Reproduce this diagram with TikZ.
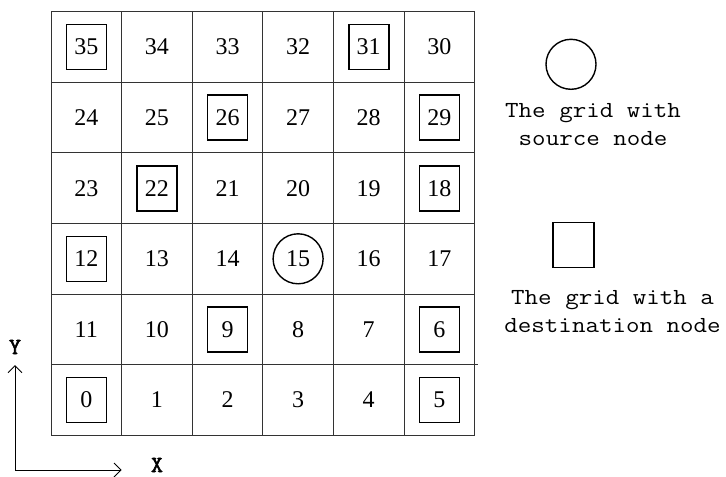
\documentclass[tikz,border=0pt]{standalone}
\usepackage{fontspec}
\setmainfont{Liberation Serif}
\newfontfamily\legfont[FakeStretch=1.14]{Latin Modern Mono}
\newfontfamily\axfont[FakeBold=2.5]{Latin Modern Mono}
\usetikzlibrary{arrows.meta,positioning}
\tikzset{
  cellnum/.style={font=\fontsize{12}{14}\selectfont},
  destbox/.style={rectangle,draw=black,line width=0.8pt,
    minimum width=20pt,minimum height=22.5pt,inner sep=0pt},
  srcring/.style={circle,draw=black,line width=0.7pt,
    minimum size=25pt,inner sep=0pt},
  gridline/.style={draw=black!80,line width=0.5pt},
  legtext/.style={align=center,font=\legfont\fontsize{11.5}{14}\selectfont},
  axisarrow/.style={-{Straight Barb[length=3.5pt,width=7pt]},line width=0.5pt},
  axislabel/.style={font=\axfont\fontsize{11.5}{13}\selectfont}
}

\begin{document}
\begin{tikzpicture}[x=0.5pt,y=-0.5pt]
  \useasboundingbox (0,0) rectangle (726,476);
  % 6x6 grid of cells
  \foreach \i in {0,...,6} {
    \draw[gridline] ({51+70.6*\i},11.7) -- ++(0,423.6);
    \draw[gridline] (51,{11.7+70.6*\i}) -- ++(423.6,0);
  }
  \draw[gridline] (474.6,364.7) -- (478,364.7);
  % cell numbers, snaking upward
  \foreach \r in {0,...,5} {
    \foreach \c in {0,...,5} {
      \pgfmathtruncatemacro{\n}{isodd(\r) ? 6*\r+5-\c : 6*\r+\c}
      \node[cellnum] (g\n) at ({86.3+70.6*\c},{400-70.6*\r}) {\n};
    }
  }
  % destination and source marks
  \foreach \n in {35,31,26,29,22,18,12,9,6,0,5} \node[destbox] (d\n) at (g\n) {};
  \node[srcring] (s15) at (g15) {};
  % legend
  \node[srcring] (srcleg) at (571,64.3) {};
  \node[legtext,below=3pt of srcleg,xshift=11pt] (srctxt) {The grid with\\source node};
  \node[destbox,minimum width=20.5pt] (dstleg) at (573.7,245) {};
  \node[legtext,below=7.7pt of dstleg,xshift=19.4pt] (dsttxt) {The grid with a\\destination node};
  % axes
  \coordinate (orig) at (15,470);
  \coordinate (yend) at (15,365);
  \coordinate (xend) at (121.7,470);
  \draw[axisarrow] (orig) -- (yend);
  \draw[axisarrow] (orig) -- (xend);
  \node[axislabel] (ylab) at (15,347) {Y};
  \node[axislabel] (xlab) at (157,465) {X};
\end{tikzpicture}
\end{document}
